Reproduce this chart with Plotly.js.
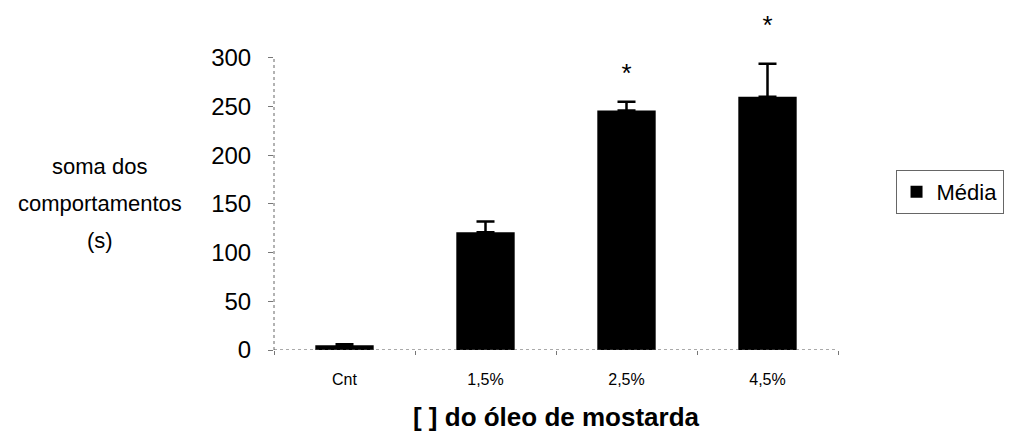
<!DOCTYPE html>
<html>
<head>
<meta charset="utf-8">
<script src="https://cdn.plot.ly/plotly-3.0.1.min.js"></script>
<style>html,body{margin:0;padding:0;background:#fff;}#chart{width:1016px;height:444px;}</style>
</head>
<body>
<div id="chart"></div>
<script>
const categories = ["Cnt", "1,5%", "2,5%", "4,5%"];
const means = [5, 121, 246, 260];
const errors = [1, 11, 9, 34];
const marks = ["", "", "*", "*"];
const markHeights = [null, null, 282, 331];
const yTicks = [0, 50, 100, 150, 200, 250, 300];
const yTitleLines = ["soma dos", "comportamentos", "(s)"];
const yTitleLevels = [188, 150, 112];

const font = "Liberation Sans, Arial, sans-serif";

const bars = {
  type: "bar",
  name: "Média",
  x: categories,
  y: means,
  marker: {color: "#000", line: {color: "#000", width: 0}},
  error_y: {type: "data", symmetric: false, array: errors, arrayminus: errors.map(() => 0),
            color: "#000", thickness: 2.5, width: 9},
  showlegend: true
};

const stars = {
  type: "scatter",
  mode: "text",
  x: categories,
  y: markHeights,
  text: marks,
  textposition: "middle center",
  textfont: {family: font, size: 26, color: "#000"},
  showlegend: false,
  hoverinfo: "skip"
};

const annotations = yTitleLines.map((t, i) => ({
  x: -0.309, y: yTitleLevels[i], xref: "paper", yref: "y", xanchor: "center", yanchor: "middle",
  text: t, showarrow: false, font: {family: font, size: 22, color: "#000"}
}));

const layout = {
  width: 1016, height: 444,
  margin: {l: 274, r: 162, t: 14, b: 94},
  paper_bgcolor: "#fff", plot_bgcolor: "#fff",
  bargap: 0.586,
  xaxis: {
    type: "category", showline: false, showgrid: false, zeroline: false,
    ticks: "outside", tickson: "boundaries", ticklen: 4, tickcolor: "#777",
    ticklabelstandoff: 18,
    tickfont: {family: font, size: 16, color: "#000"},
    title: {text: "<b>[ ] do óleo de mostarda</b>", font: {family: font, size: 26, color: "#000"}, standoff: 20}
  },
  yaxis: {
    range: [0, 345], tickvals: yTicks, showline: false, showgrid: false, zeroline: false,
    ticks: "outside", ticklen: 5, tickcolor: "#777", ticklabelstandoff: 12,
    tickfont: {family: font, size: 24, color: "#000"}
  },
  legend: {x: 1.102, y: 0.536, xanchor: "left", yanchor: "top", bordercolor: "#666", borderwidth: 1,
    font: {family: font, size: 22, color: "#000"}, itemwidth: 30, bgcolor: "#fff"},
  shapes: [
    {type: "line", xref: "paper", yref: "y", x0: 0, x1: 0, y0: 0, y1: 300, line: {color: "#666", width: 1, dash: "dot"}},
    {type: "line", xref: "paper", yref: "y", x0: 0, x1: 1, y0: 0, y1: 0, line: {color: "#555", width: 1, dash: "dot"}}
  ],
  annotations: annotations
};

Plotly.newPlot("chart", [bars, stars], layout, {staticPlot: true, displayModeBar: false});
</script>
</body>
</html>
